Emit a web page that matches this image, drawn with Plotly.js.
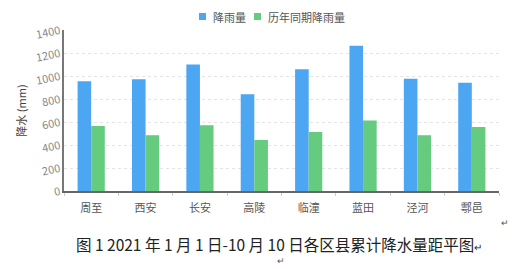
<!DOCTYPE html>
<html><head><meta charset="utf-8">
<script src="https://cdn.plot.ly/plotly-3.0.1.min.js"></script>
<style>html,body{margin:0;padding:0;background:#fff}#c{width:528px;height:269px}</style>
</head><body><div id="c"></div>
<script>
const categories = ['周至','西安','长安','高陵','临潼','蓝田','泾河','鄠邑'];
const rainfall = [955, 972, 1100, 842, 1059, 1264, 976, 941];
const normalRainfall = [565, 485, 571, 444, 513, 612, 485, 557];
const seriesNames = ['降雨量','历年同期降雨量'];
const seriesColors = ['#4ca6f2','#64cb7f'];
const yTicks = [0,200,400,600,800,1000,1200,1400];

const font = 'Noto Sans CJK SC, Noto Sans, sans-serif';
const data = [
  {type:'bar', name:seriesNames[0], x:categories, y:rainfall, marker:{color:seriesColors[0]}},
  {type:'bar', name:seriesNames[1], x:categories, y:normalRainfall, marker:{color:seriesColors[1]}}
];
// plot area: x 64..499, y 30..191 (px)
const px = x => (x-64)/435, py = y => (191-y)/161;
const legendShapes = [
  {type:'rect', xref:'paper', yref:'paper', x0:px(199), x1:px(206), y0:py(20), y1:py(13), fillcolor:seriesColors[0], line:{width:0}},
  {type:'rect', xref:'paper', yref:'paper', x0:px(254), x1:px(261), y0:py(20), y1:py(13), fillcolor:seriesColors[1], line:{width:0}}
];
const layout = {
  width:528, height:269,
  margin:{l:64, r:29, t:30, b:78},
  paper_bgcolor:'#fff', plot_bgcolor:'#fff',
  font:{family:font, size:11, color:'#666'},
  barmode:'group', bargap:0.5, bargroupgap:0,
  showlegend:false,
  shapes:legendShapes,
  xaxis:{showline:true, linecolor:'#666', linewidth:2, showgrid:false,
         ticks:'outside', ticklen:3, tickcolor:'#ccc', tickson:'boundaries',
         ticklabelstandoff:6,
         tickfont:{size:11, color:'#555'}, fixedrange:true},
  yaxis:{range:[0,1400], tickvals:yTicks, showline:true, linecolor:'#777', linewidth:2,
         gridcolor:'#e4e4e4', griddash:'dot', zeroline:false, tickangle:-12,
         tickfont:{size:11, color:'#888'},
         title:{text:'降水 (mm)', font:{size:11, color:'#444'}, standoff:6}},
  annotations:[
    {xref:'paper', yref:'paper', x:px(211), y:py(16.5), xanchor:'left', yanchor:'middle',
     text:seriesNames[0], showarrow:false, font:{size:11, color:'#555'}},
    {xref:'paper', yref:'paper', x:px(266), y:py(16.5), xanchor:'left', yanchor:'middle',
     text:seriesNames[1], showarrow:false, font:{size:11, color:'#555'}},
    {xref:'paper', yref:'paper', x:px(279), y:py(244), xanchor:'center', yanchor:'middle',
     text:'图 1 2021 年 1 月 1 日-10 月 10 日各区县累计降水量距平图<span style="font-size:10px">↵</span>', showarrow:false,
     font:{family:'Noto Sans CJK SC, serif', size:15.5, color:'#222'}},
    {xref:'paper', yref:'paper', x:px(505), y:py(222), xanchor:'center', yanchor:'middle', text:'↵', showarrow:false, font:{size:9, color:'#555'}},
    {xref:'paper', yref:'paper', x:px(281), y:py(260), xanchor:'center', yanchor:'middle', text:'↵', showarrow:false, font:{size:9, color:'#555'}}
  ]
};
Plotly.newPlot('c', data, layout, {displayModeBar:false, staticPlot:true});
</script></body></html>
